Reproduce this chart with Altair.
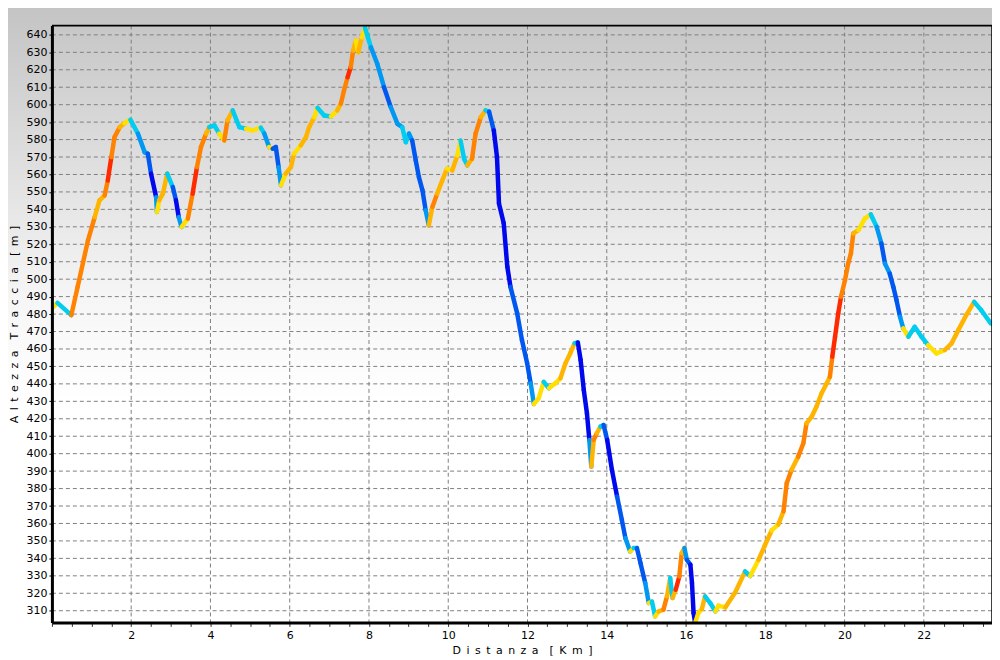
import altair as alt
import pandas as pd

# ---- data ----
dist = [0.03,0.14,0.49,0.65,0.91,1.08,1.20,1.33,1.41,1.50,
        1.58,1.71,1.83,1.98,2.17,2.34,2.42,2.50,2.63,2.65,
        2.71,2.80,2.91,3.05,3.13,3.20,3.27,3.43,3.55,3.66,
        3.76,3.89,3.97,4.10,4.22,4.35,4.43,4.56,4.73,4.90,
        5.06,5.27,5.36,5.48,5.57,5.65,5.72,5.78,5.90,6.03,
        6.11,6.28,6.41,6.49,6.62,6.70,6.87,7.04,7.20,7.29,
        7.37,7.46,7.54,7.60,7.67,7.73,7.82,7.90,8.05,8.21,
        8.38,8.55,8.72,8.84,8.93,9.01,9.09,9.18,9.26,9.35,
        9.43,9.51,9.60,9.72,9.85,9.97,10.10,10.23,10.31,10.40,
        10.48,10.60,10.69,10.82,10.94,11.03,11.15,11.23,11.28,11.40,
        11.49,11.57,11.74,11.86,11.99,12.08,12.16,12.28,12.41,12.54,
        12.70,12.83,12.96,13.08,13.19,13.27,13.34,13.42,13.50,13.56,
        13.61,13.67,13.75,13.84,13.92,14.01,14.13,14.26,14.38,14.47,
        14.59,14.68,14.76,14.85,14.97,15.06,15.14,15.22,15.31,15.43,
        15.52,15.60,15.66,15.74,15.83,15.89,15.96,16.02,16.11,16.15,
        16.19,16.23,16.31,16.40,16.48,16.61,16.74,16.82,16.99,17.24,
        17.49,17.62,17.83,17.99,18.16,18.33,18.46,18.54,18.66,18.83,
        18.96,19.04,19.17,19.29,19.42,19.55,19.63,19.69,19.76,19.84,
        19.91,20.01,20.09,20.16,20.22,20.35,20.51,20.66,20.81,20.93,
        21.02,21.14,21.23,21.31,21.40,21.48,21.61,21.77,21.94,22.11,
        22.32,22.53,22.70,22.87,23.07,23.27,23.45,23.69]

elev = [484,486.4,479.4,495.6,522.3,535.6,545.2,548,556.6,570,
        581.4,587.1,589.4,591.4,583.4,572.8,571.9,560.5,547,538.5,
        545.2,549,560.5,552.8,545.2,535.6,529.9,534.7,549,564.2,
        575.7,583.4,587.1,588.1,583.4,579.5,591,596.7,587.1,586.2,
        585.2,586.8,583.4,575.7,574.8,575.7,564.2,553.8,560.5,564.2,
        571.9,576.7,581.4,587.1,592.8,598.2,593.8,593.2,596.7,600.5,
        608.1,615.7,621.5,631,636.7,630,638.6,644,632.9,623.4,
        610,598.6,589,587.1,578.5,583.4,579.5,568.1,558.5,550.9,
        539.5,530.9,541.4,549,556.6,563.3,562.3,570.9,579.5,569,
        565.2,569,583.4,592.8,596.7,596,585.2,570,543.4,532,
        507.2,495.6,480.4,465.1,451.9,440.3,428.5,431.7,441.2,437.5,
        440.3,443.2,451.9,457.6,463.3,463.7,453.7,436.5,423.1,407.9,
        392.6,407.9,411.7,415.5,416.4,407.9,390.7,375.5,362.1,351.6,
        344,345.9,345.9,337.3,325.9,314.4,315.3,306.7,309.6,310.6,
        318.2,328.7,317.3,322,329.6,343,345.9,339.2,336.4,325.9,
        308.7,303,308.7,311,318.2,314.4,309.6,312.9,311.9,320.4,
        332.5,329.9,339.2,347.5,356,359.5,367,383.1,390.7,398.3,
        406,417.4,421.2,426.9,434.6,440.3,444.1,455.6,467,480.4,
        489.9,499.4,508.9,514.7,526.2,528.1,534.7,537.2,530,520.4,
        508.9,503.2,495.6,488,478.4,471.8,467,472.7,467,462.2,
        457.5,459.4,463.2,470.8,479.4,487,482.2,474.6]

# slope class of the segment starting at each point (0 = steep descent ... 7 = steep ascent)
grade = [4,3,6,6,6,5,5,6,7,6,
         6,5,4,3,2,2,1,0,2,4,
         5,5,3,1,0,2,4,6,7,6,
         6,5,3,3,4,6,5,3,3,4,
         4,3,2,4,1,1,2,4,5,5,
         4,5,5,5,4,3,3,4,5,6,
         6,7,6,5,4,5,4,3,2,2,
         1,2,2,3,3,2,1,1,1,1,
         2,5,6,5,5,4,5,4,3,3,
         5,6,6,5,3,1,0,0,0,0,
         0,1,1,1,1,2,4,4,3,4,
         4,5,5,5,3,0,0,0,0,2,
         5,6,5,3,1,0,0,1,1,2,
         4,3,1,1,2,4,3,4,5,6,
         5,3,5,7,6,5,2,1,0,0,
         0,4,4,5,3,3,4,4,5,5,
         3,4,5,5,4,5,6,6,5,6,
         6,5,5,5,5,5,6,7,7,7,
         6,6,6,6,5,4,4,3,2,1,
         2,1,1,1,2,4,3,3,3,4,
         4,5,5,5,5,3,3,3]

grade_colors = ["#0008ee", "#0058f0", "#0098f2", "#00cdf0",
                "#ffe000", "#ffb400", "#ff8200", "#ff2a00"]

x_ticks = [i * 0.5 for i in range(48)]
x_grid = [2, 4, 6, 8, 10, 12, 14, 16, 18, 20, 22]
y_ticks = list(range(310, 641, 10))


def spaced(words):
    gap = "\u2002"
    return (gap * 2).join(gap.join(w) for w in words)


x_title = spaced(["Distanza", "[Km]"])
y_title = spaced(["Altezza", "Traccia", "[m]"])

W, H = 942, 598
n = min(len(dist), len(elev), len(grade))
seg = pd.DataFrame({
    "x": dist[:n - 1], "y": elev[:n - 1],
    "x2": dist[1:n], "y2": elev[1:n],
    "g": grade[:n - 1],
})

xs = alt.Scale(domain=[0, 23.72], nice=False, zero=False)
ys = alt.Scale(domain=[303.3, 645.3], nice=False, zero=False)

FONT = "DejaVu Sans"
x_axis = alt.Axis(
    values=x_ticks,
    labelExpr="datum.value > 0 && datum.value % 2 == 0 ? '' + datum.value : ''",
    grid=False, domainColor="black", domainWidth=3,
    tickColor="#303030", tickSize=4, tickWidth=1,
    labelFont=FONT, labelFontSize=11, labelColor="black", labelPadding=3,
    labelOverlap=False, labelFlush=False,
    title=x_title, titleFont=FONT, titleFontSize=11,
    titleFontWeight="normal", titleColor="black", titlePadding=4, zindex=1,
)
y_axis = alt.Axis(
    values=y_ticks, grid=False, domainColor="black", domainWidth=3,
    tickColor="black", tickSize=3, tickWidth=1,
    labelFont=FONT, labelFontSize=11, labelColor="black", labelPadding=2,
    labelOverlap=False,
    title=y_title, titleFont=FONT, titleFontSize=11,
    titleFontWeight="normal", titleColor="black", titlePadding=6, zindex=1,
)

one = pd.DataFrame({"a": [0]})
bg = alt.Chart(one).mark_rect(
    clip=False,
    fill=alt.Gradient(
        gradient="linear", x1=0, x2=0, y1=0, y2=1,
        stops=[alt.GradientStop(color="#c2c2c2", offset=0),
               alt.GradientStop(color="#f6f6f6", offset=0.45),
               alt.GradientStop(color="#ffffff", offset=0.6)],
    ),
).encode(x=alt.value(-60), x2=alt.value(W + 20), y=alt.value(-30), y2=alt.value(H + 50))

hgrid = alt.Chart(pd.DataFrame({"v": y_ticks})).mark_rule(
    color="#808080", strokeDash=[4, 3], strokeWidth=1
).encode(y=alt.Y("v:Q", scale=ys, axis=y_axis))

vgrid = alt.Chart(pd.DataFrame({"v": x_grid})).mark_rule(
    color="#808080", strokeDash=[4, 3], strokeWidth=1
).encode(x=alt.X("v:Q", scale=xs, axis=x_axis))

line = alt.Chart(seg).mark_rule(strokeWidth=4.5, strokeCap="round", clip=True).encode(
    x=alt.X("x:Q", scale=xs, axis=x_axis),
    y=alt.Y("y:Q", scale=ys, axis=y_axis),
    x2="x2:Q", y2="y2:Q",
    color=alt.Color("g:O", scale=alt.Scale(domain=list(range(8)), range=grade_colors), legend=None),
)

top_border = alt.Chart(one).mark_rule(color="black", strokeWidth=2, clip=False).encode(
    x=alt.value(0), x2=alt.value(W), y=alt.value(0))
right_border = alt.Chart(one).mark_rule(color="black", strokeWidth=1.5, clip=False).encode(
    x=alt.value(W), y=alt.value(0), y2=alt.value(H))

chart = alt.layer(bg, hgrid, vgrid, line, top_border, right_border).properties(
    width=W, height=H,
    padding={"left": 44, "top": 17, "right": 0, "bottom": 35},
    autosize=alt.AutoSizeParams(type="none"),
    background="white",
).configure_view(stroke=None)

chart.save("out.html", embed_options={"renderer": "svg", "actions": False})
